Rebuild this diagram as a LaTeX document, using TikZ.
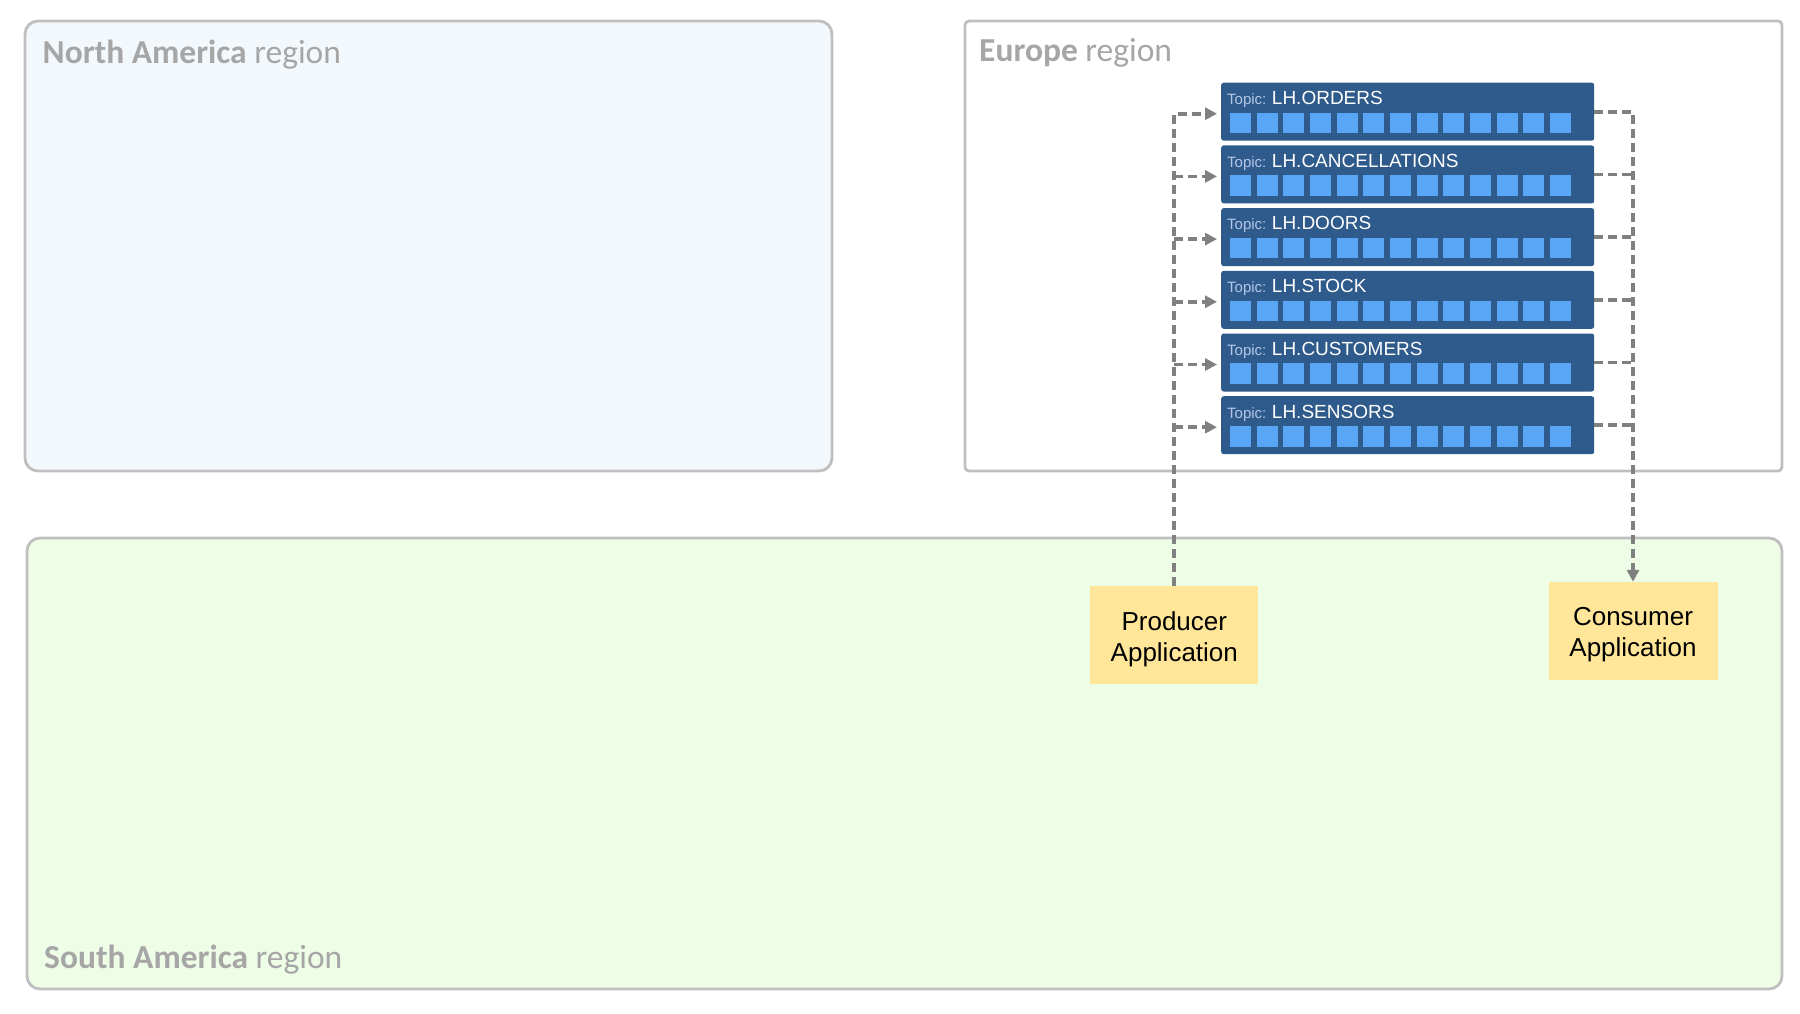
\documentclass[tikz,border=0pt]{standalone}
\usepackage{fontspec}
\setmainfont{Liberation Sans}
\newfontfamily\carlito{Carlito}
\usetikzlibrary{arrows.meta}
\definecolor{regionline}{RGB}{191,191,191}
\definecolor{nafill}{RGB}{243,248,253}
\definecolor{safill}{RGB}{238,253,230}
\definecolor{regiontext}{RGB}{166,166,166}
\definecolor{topicfill}{RGB}{47,90,140}
\definecolor{partfill}{RGB}{88,166,245}
\definecolor{topiclabel}{RGB}{180,199,231}
\definecolor{appfill}{RGB}{255,230,153}
\definecolor{flowgray}{RGB}{128,128,128}
\begin{document}
\begin{tikzpicture}[x=1pt,y=-1pt,
  region/.style={draw=regionline, line width=2.8pt},
  regiontitle/.style={anchor=base west, inner sep=0pt, text=regiontext, font=\carlito\fontsize{33.5}{40}\selectfont},
  topic/.style={fill=topicfill, rounded corners=2.5pt, minimum width=373pt, minimum height=58pt, inner sep=0pt, anchor=north west},
  topictext/.style={anchor=base west, inner sep=0pt, text=white, font=\fontsize{15}{18}\selectfont},
  app/.style={fill=appfill, minimum width=168pt, minimum height=98pt, inner sep=0pt},
  apptext/.style={align=center, font=\fontsize{26}{31}\selectfont, inner sep=0pt},
  flow/.style={draw=flowgray, line width=3.7pt, dash pattern=on 9pt off 5pt},
  flowtip/.style={-{Triangle[length=12pt,width=12pt]}}
]
\useasboundingbox (0,0) rectangle (1800,1013);
\fill[white] (0,0) rectangle (1800,1013);
% regions
\draw[region, fill=nafill, rounded corners=13pt] (25,21) rectangle (832,471);
\draw[region, fill=white, rounded corners=4pt] (965,21) rectangle (1782,471);
\draw[region, fill=safill, rounded corners=13pt] (27,538) rectangle (1782,989);
\node[regiontitle] (natitle) at (42.5,63) {\textbf{North America} region};
\node[regiontitle] (eutitle) at (979,61) {\textbf{Europe} region};
\node[regiontitle] (satitle) at (44,968) {\textbf{South America} region};
% topics
\foreach \i/\tname in {1/ORDERS,2/CANCELLATIONS,3/DOORS,4/STOCK,5/CUSTOMERS,6/SENSORS}{
  \node[topic] (t\i) at (1221,{82.5+62.7*(\i-1)}) {};
  \foreach \j in {0,...,12}
    \fill[partfill] ([xshift=9pt+26.67pt*\j, yshift=-30pt]t\i.north west) rectangle ++(21,20.5);
  \node[topictext] (l\i) at ([xshift=6pt,yshift=-22pt]t\i.north west)
    {{\color{topiclabel}Topic:} {\fontsize{19}{22}\selectfont LH.\tname}};
  \coordinate (in\i) at ([yshift=-2pt]t\i.west);
}
% applications
\node[app] (prod) at (1174.3,635.4) {};
\node[apptext] (prodtext) at ([yshift=-4pt]prod.center) {Producer\\Application};
\node[app, minimum width=169pt] (cons) at (1633,631) {};
\node[apptext] (constext) at ([yshift=-4pt]cons.center) {Consumer\\Application};
% producer flows
\draw[flow, flowtip, shorten >=4pt] (prod.north) |- (in1);
\foreach \i in {2,...,6}
  \draw[flow, flowtip, shorten >=4pt] (prod.north |- in\i) -- (in\i);
% consumer flows
\draw[flow, flowtip] (t1.east) -| (cons.north);
\foreach \i in {2,...,6}
  \draw[flow] (t\i.east) -- (t\i.east -| cons.north);
\end{tikzpicture}
\end{document}
